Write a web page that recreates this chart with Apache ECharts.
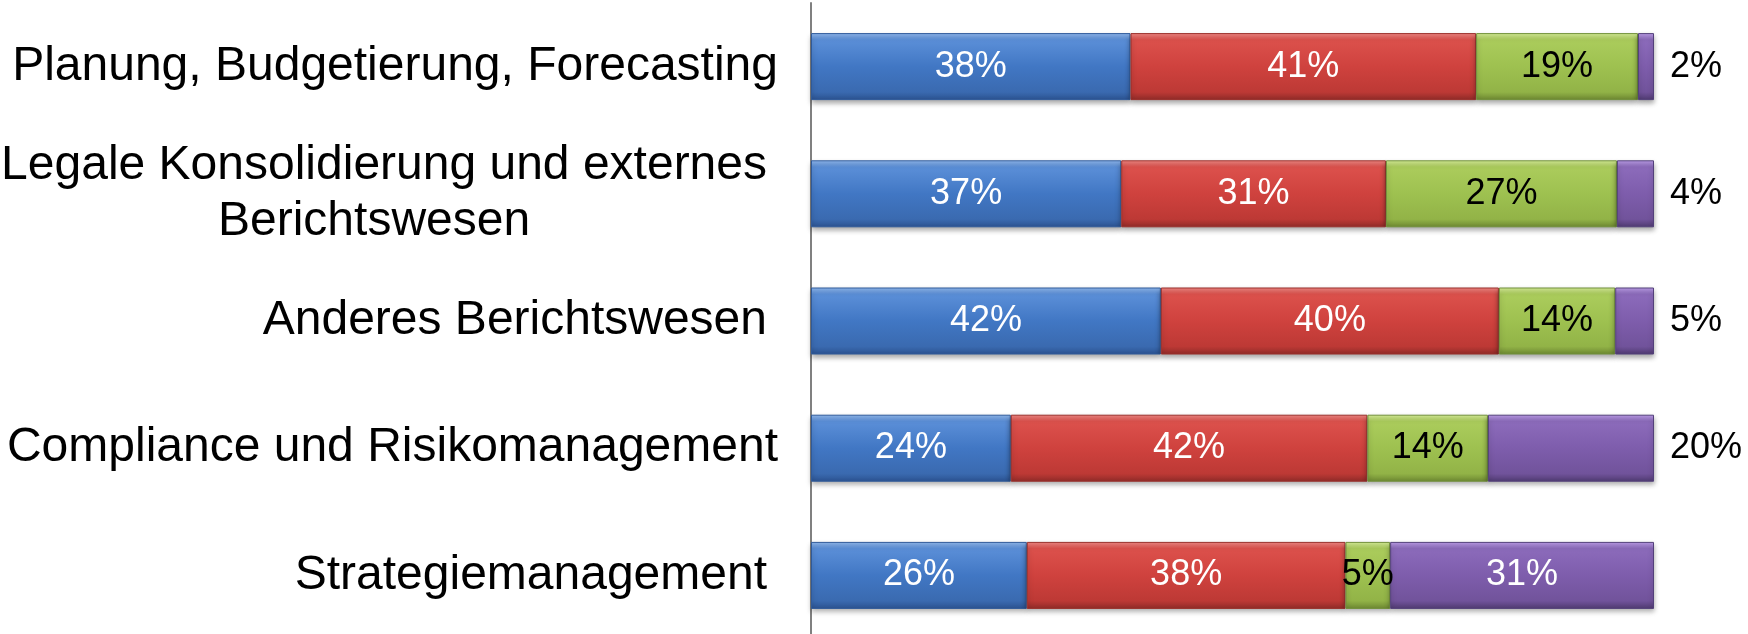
<!DOCTYPE html>
<html><head><meta charset="utf-8">
<script src="https://cdn.jsdelivr.net/npm/echarts@6/dist/echarts.min.js"></script>
<style>html,body{margin:0;padding:0;background:#fff}#c{width:1748px;height:634px}</style>
</head><body><div id="c"></div>
<script>
// ---- data (shares in %) ----
const categories = [
  'Planung, Budgetierung, Forecasting',
  'Legale Konsolidierung und externes\nBerichtswesen',
  'Anderes Berichtswesen',
  'Compliance und Risikomanagement',
  'Strategiemanagement'
];
const seriesNames = ['Serie 1', 'Serie 2', 'Serie 3', 'Serie 4'];
const valuesBlue   = [37.9, 36.8, 41.5, 23.7, 25.6];
const valuesRed    = [41.0, 31.4, 40.1, 42.3, 37.8];
const valuesGreen  = [19.2, 27.4, 13.8, 14.3, 5.3];
const valuesPurple = [1.9, 4.4, 4.6, 19.7, 31.3];

// ---- styling ----
const FONT = "'Liberation Sans', Arial, Helvetica, sans-serif";
const palettes = [
  {top:'#93bbf0', hi:'#5b8fd8', mid:'#4177c4', low:'#3a6ab0', bot:'#2b5290', border:'#2f5a9a'},
  {top:'#f38a86', hi:'#dc514c', mid:'#cf423e', low:'#bd3935', bot:'#8f2b28', border:'#9a2f2b'},
  {top:'#d9f09a', hi:'#abcc5c', mid:'#9ec150', low:'#92b347', bot:'#6c8731', border:'#71903a'},
  {top:'#bfa0ec', hi:'#8c6bbb', mid:'#7e5dac', low:'#71539b', bot:'#4f3a70', border:'#53407a'}
];
function grad(p){
  return new echarts.graphic.LinearGradient(0,0,0,1,[
    {offset:0, color:p.top},{offset:0.1, color:p.hi},{offset:0.5, color:p.mid},
    {offset:0.88, color:p.low},{offset:1, color:p.bot}
  ]);
}
const labelColors = ['#ffffff','#ffffff','#000000','#ffffff'];
const allValues = [valuesBlue, valuesRed, valuesGreen, valuesPurple];
// categories whose label has a trailing blank in the original
const trailingPad = [0, 1, 1, 0, 1];

const series = allValues.map((vals, si) => ({
  name: seriesNames[si],
  type: 'bar',
  stack: 'total',
  barWidth: 67,
  itemStyle: {
    color: grad(palettes[si]),
    borderColor: palettes[si].border,
    borderWidth: 1,
    shadowColor: 'rgba(0,0,0,0.35)',
    shadowBlur: 5,
    shadowOffsetY: 3
  },
  label: {
    show: true,
    position: 'inside',
    color: labelColors[si],
    fontFamily: FONT,
    fontSize: 36,
    formatter: p => Math.round(p.value) + '%'
  },
  data: vals.map(v => {
    if (si === 3 && v < 25) {
      return {value: v, label: {position: 'right', distance: 16, color: '#000000'}};
    }
    return v;
  })
}));

const richBase = {fontFamily: FONT, fontSize: 48, lineHeight: 56, color: '#000', align: 'center'};
const chart = echarts.init(document.getElementById('c'), null, {renderer: 'canvas'});
chart.setOption({
  animation: false,
  backgroundColor: '#ffffff',
  grid: {left: 811, right: 94, top: 3, height: 636, containLabel: false, outerBoundsMode: 'none'},
  xAxis: {type: 'value', min: 0, max: 100, show: false},
  yAxis: {
    type: 'category',
    inverse: true,
    data: categories,
    axisLine: {show: true, lineStyle: {color: '#808080', width: 2}},
    axisTick: {show: false},
    splitLine: {show: false},
    axisLabel: {
      margin: 33,
      fontFamily: FONT,
      fontSize: 48,
      lineHeight: 56,
      color: '#000',
      formatter: (val, idx) => {
        const lines = val.split('\n');
        return lines.map((l, li) => {
          const style = trailingPad[idx] ? (li === 0 ? 'p' : 'q') : 'n';
          return '{' + style + '|' + l + '}';
        }).join('\n');
      },
      rich: {
        n: Object.assign({}, richBase),
        p: Object.assign({}, richBase, {padding: [0, 11, 0, 0]}),
        q: Object.assign({}, richBase, {padding: [0, 31, 0, 0]})
      }
    }
  },
  series: series
});
</script>
</body></html>
